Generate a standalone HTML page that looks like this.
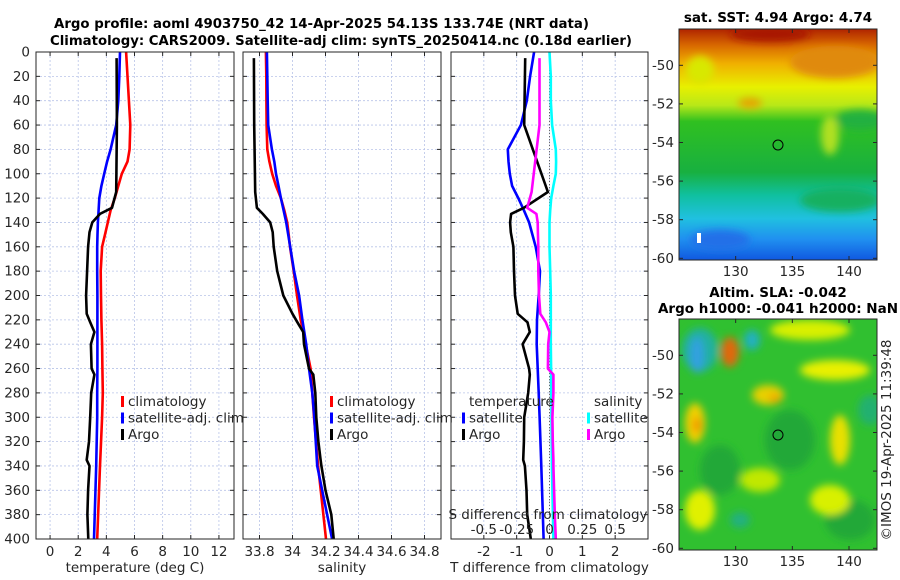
<!DOCTYPE html>
<html><head><meta charset="utf-8"><style>
html,body{margin:0;padding:0;background:#fff;}
svg{display:block;font-family:"DejaVu Sans","Liberation Sans",sans-serif;}
.t{font-size:13.5px;fill:#262626;}
.b{font-size:13.5px;font-weight:bold;fill:#000;}
</style></head><body>
<svg id="fig" width="900" height="580" viewBox="0 0 900 580">
<defs>
<linearGradient id="sstg" x1="0" y1="0" x2="0" y2="1">
<stop offset="0" stop-color="#b02400"/><stop offset="0.07" stop-color="#d86800"/>
<stop offset="0.15" stop-color="#f0b000"/><stop offset="0.25" stop-color="#e8f000"/>
<stop offset="0.33" stop-color="#b8e818"/><stop offset="0.40" stop-color="#30c020"/>
<stop offset="0.62" stop-color="#18b040"/><stop offset="0.72" stop-color="#10c0a0"/>
<stop offset="0.82" stop-color="#20c0e0"/><stop offset="0.91" stop-color="#2090f0"/>
<stop offset="1" stop-color="#1058e0"/></linearGradient>
<filter id="bl" x="-50%" y="-50%" width="200%" height="200%"><feGaussianBlur stdDeviation="4"/></filter>
<clipPath id="c1"><rect x="679" y="29" width="198" height="231"/></clipPath>
<clipPath id="c2"><rect x="679" y="319" width="198" height="231"/></clipPath>
</defs>
<text class="b" x="54" y="28" textLength="535" lengthAdjust="spacingAndGlyphs">Argo profile: aoml 4903750_42 14-Apr-2025 54.13S 133.74E (NRT data)</text>
<text class="b" x="50" y="45" textLength="582" lengthAdjust="spacingAndGlyphs">Climatology: CARS2009. Satellite-adj clim: synTS_20250414.nc (0.18d earlier)</text>
<g id="panels"></g>

<!-- SST map -->
<g>
<g clip-path="url(#c1)">
<rect x="679" y="29" width="198" height="231" fill="url(#sstg)"/>
<g filter="url(#bl)">
<ellipse cx="835" cy="62" rx="45" ry="16" fill="#e08a10"/>
<ellipse cx="770" cy="34" rx="40" ry="8" fill="#a81800"/>
<ellipse cx="700" cy="70" rx="14" ry="14" fill="#d8e800"/>
<ellipse cx="750" cy="103" rx="12" ry="5" fill="#e8a000"/>
<ellipse cx="860" cy="120" rx="25" ry="10" fill="#20b040"/>
<ellipse cx="830" cy="135" rx="9" ry="20" fill="#b0e020"/>
<ellipse cx="840" cy="200" rx="40" ry="12" fill="#18b060"/>
<ellipse cx="720" cy="240" rx="30" ry="10" fill="#2070e8"/>
</g>
<rect x="697" y="233" width="4" height="10" fill="#fff"/>
</g>
<rect x="679" y="29" width="198" height="231" fill="none" stroke="#262626"/>
<circle cx="778" cy="145" r="5" fill="none" stroke="#000"/>
</g>
<text class="b" x="778" y="22" text-anchor="middle">sat. SST: 4.94 Argo: 4.74</text>

<!-- SLA map -->
<g>
<g clip-path="url(#c2)">
<rect x="679" y="319" width="198" height="231" fill="#30c030"/>
<g filter="url(#bl)">
<ellipse cx="790" cy="440" rx="25" ry="30" fill="#20a838"/>
<ellipse cx="720" cy="470" rx="20" ry="25" fill="#20a838"/>
<ellipse cx="850" cy="520" rx="25" ry="20" fill="#20a838"/>
<ellipse cx="870" cy="410" rx="12" ry="15" fill="#20b070"/>
<ellipse cx="700" cy="350" rx="18" ry="22" fill="#20b0a0"/>
<ellipse cx="697" cy="355" rx="7" ry="18" fill="#30a0e0"/>
<ellipse cx="730" cy="352" rx="9" ry="15" fill="#e06810"/>
<ellipse cx="752" cy="340" rx="8" ry="10" fill="#20b0c0"/>
<ellipse cx="768" cy="395" rx="16" ry="10" fill="#e8d000"/>
<ellipse cx="775" cy="398" rx="6" ry="4" fill="#f0a000"/>
<ellipse cx="695" cy="423" rx="10" ry="20" fill="#f0d000"/>
<ellipse cx="697" cy="425" rx="4" ry="8" fill="#f09000"/>
<ellipse cx="840" cy="440" rx="10" ry="25" fill="#e8e000"/>
<ellipse cx="835" cy="370" rx="35" ry="10" fill="#e8f000"/>
<ellipse cx="810" cy="330" rx="40" ry="10" fill="#d8f000"/>
<ellipse cx="700" cy="510" rx="15" ry="20" fill="#e0f000"/>
<ellipse cx="760" cy="480" rx="20" ry="12" fill="#c0e800"/>
<ellipse cx="830" cy="500" rx="20" ry="15" fill="#d8f000"/>
<ellipse cx="740" cy="520" rx="10" ry="8" fill="#20b080"/>
</g>
</g>
<rect x="679" y="319" width="198" height="231" fill="none" stroke="#262626"/>
<circle cx="778" cy="435" r="5" fill="none" stroke="#000"/>
</g>
<text class="b" x="778" y="297" text-anchor="middle">Altim. SLA: -0.042</text>
<text class="b" x="778" y="313" text-anchor="middle">Argo h1000: -0.041 h2000: NaN</text>
<text class="t" transform="translate(891,440) rotate(-90)" text-anchor="middle">©IMOS 19-Apr-2025 11:39:48</text>
<g id="mapaxes"></g>
</svg>
<script>
// depth grid (m)
const depthsTop = [0,20,40,60,80,90,100,110,120,130,140,150,160,180,200,220,240,260,280,300,340,400];
const tempClim = [5.4,5.5,5.6,5.7,5.65,5.5,5.1,4.85,4.6,4.3,4.1,3.9,3.7,3.6,3.62,3.65,3.7,3.72,3.75,3.7,3.55,3.35];
const tempSat  = [4.97,4.92,4.85,4.7,4.3,4.05,3.85,3.65,3.5,3.45,3.4,3.37,3.35,3.35,3.36,3.36,3.36,3.36,3.35,3.35,3.28,3.12];
const argoDepths = [5,60,115,128,133,140,148,160,180,200,215,222,230,240,260,265,280,300,320,335,340,360,380,400];
const tempArgo = [4.73,4.75,4.7,4.4,3.55,3.0,2.8,2.7,2.63,2.56,2.6,2.85,3.15,2.9,2.95,3.15,2.92,2.85,2.77,2.6,2.8,2.7,2.65,2.72];
const salClim = [33.839,33.841,33.842,33.843,33.847,33.86,33.877,33.9,33.93,33.95,33.968,33.977,33.985,34.007,34.027,34.05,34.08,34.11,34.12,34.13,34.155,34.203];
const salSat  = [33.845,33.847,33.85,33.853,33.875,33.89,33.9,33.915,33.93,33.946,33.962,33.974,33.986,34.01,34.04,34.06,34.083,34.1,34.12,34.132,34.15,34.24];
const salArgo = [33.766,33.768,33.774,33.784,33.82,33.865,33.88,33.886,33.907,33.944,34.0,34.03,34.065,34.07,34.1,34.126,34.138,34.144,34.157,34.17,34.175,34.2,34.235,34.25];
const tDiffSat = [-0.47,-0.59,-0.69,-0.87,-1.27,-1.25,-1.21,-1.14,-0.95,-0.78,-0.62,-0.52,-0.42,-0.29,-0.33,-0.38,-0.39,-0.36,-0.33,-0.3,-0.25,-0.18];
const tDiffArgo = [-0.74,-0.77,-0.05,-0.78,-1.17,-1.2,-1.18,-1.1,-1.08,-1.05,-0.97,-0.67,-0.6,-0.82,-0.62,-0.6,-0.65,-0.77,-0.78,-0.8,-0.75,-0.7,-0.68,-0.57];
const sDiffArgo = [-0.076,-0.076,-0.136,-0.17,-0.1,-0.09,-0.088,-0.085,-0.085,-0.08,-0.07,-0.028,0,-0.01,-0.012,0.03,0.03,0.022,0.025,0.03,0.03,0.035,0.04,0.048];
const sDiffSat = [0,0.01,0.01,0.02,0.048,0.05,0.048,0.03,0.013,0.005,0,0,0,0.005,0.01,0.01,0.01,0.012,0.014,0.015,0.018,0.03];
const depthTicks = [0,20,40,60,80,100,120,140,160,180,200,220,240,260,280,300,320,340,360,380,400];
const tempTicks = [0,2,4,6,8,10,12];
const salTicks = [33.8,34,34.2,34.4,34.6,34.8];
const salTickLabels = ["33.8","34","34.2","34.4","34.6","34.8"];
const tdTicks = [-2,-1,0,1,2];
const tdTickLabels = ["-2","-1","0","1","2"];
const sdTicks = [-0.5,-0.25,0,0.25,0.5];
const sdTickLabels = ["-0.5","-0.25","0","0.25","0.5"];
const latTicks = [-50,-52,-54,-56,-58,-60];
const lonTicks = [130,135,140];

const NS = "http://www.w3.org/2000/svg";
const Y0 = 52, Y1 = 539;
const yS = d => Y0 + (d/400)*(Y1-Y0);
function lin(d0,d1,r0,r1){return v => r0 + (v-d0)/(d1-d0)*(r1-r0);}
function mk(tag, attrs, parent){const e=document.createElementNS(NS,tag);for(const k in attrs)e.setAttribute(k,attrs[k]);parent.appendChild(e);return e;}
const root = document.getElementById('panels');

function panel(name, x0, x1, xs, vticks, xlabels, xlabel){
  const g = mk('g',{},root);
  
  
  vticks.forEach(v=>{mk('line',{x1:xs(v),x2:xs(v),y1:Y0,y2:Y1,stroke:'#b8c4e8','stroke-width':0.8,'stroke-dasharray':'2,2'},g);});
  depthTicks.forEach(d=>{
    mk('line',{x1:x0,x2:x1,y1:yS(d),y2:yS(d),stroke:'#b8c4e8','stroke-width':0.8,'stroke-dasharray':'2,2'},g);
    mk('line',{x1:x0,x2:x0+4,y1:yS(d),y2:yS(d),stroke:'#262626'},g);
    mk('line',{x1:x1-4,x2:x1,y1:yS(d),y2:yS(d),stroke:'#262626'},g);
  });
  vticks.forEach((v,i)=>{
    mk('line',{x1:xs(v),x2:xs(v),y1:Y1,y2:Y1-4,stroke:'#262626'},g);
    mk('line',{x1:xs(v),x2:xs(v),y1:Y0,y2:Y0+4,stroke:'#262626'},g);
    const t = mk('text',{x:xs(v),y:556,'text-anchor':'middle',class:'t'},g);
    t.textContent = xlabels[i];
    
    
  });
  const xl = mk('text',{x:(x0+x1)/2,y:572,'text-anchor':'middle',class:'t'},g);
  xl.textContent = xlabel;
  
  
  return g;
}
function line(g, xs, vals, depths, color, name){
  const pts = vals.map((v,i)=>xs(v).toFixed(1)+','+yS(depths[i]).toFixed(1)).join(' ');
  const p = mk('polyline',{points:pts,fill:'none',stroke:color,'stroke-width':2.6,'stroke-linejoin':'round'},g);
  
  
}
function frame(g,x0,x1){mk('rect',{x:x0,y:Y0,width:x1-x0,height:Y1-Y0,fill:'none',stroke:'#262626'},g);}
function legend(g, x, y, items){
  items.forEach((it,i)=>{
    if(it.c) mk('rect',{x:x,y:y+i*16.5-9,width:3,height:11,fill:it.c},g);
    const t = mk('text',{x:x+7,y:y+i*16.5+1,class:'t'},g);
    t.textContent = it.t;
    
    
  });
}

// Panel 1
const xT = lin(-1,13,36,233);
const g1 = panel('temperature-panel',36,234,xT,tempTicks,tempTicks.map(String),'temperature (deg C)');
depthTicks.forEach(d=>{
  const t = mk('text',{x:30,y:yS(d)+4.5,'text-anchor':'end',class:'t'},g1);
  t.textContent = d;
  
  
});
line(g1,xT,tempClim,depthsTop,'#ff0000','temp-climatology-line');
line(g1,xT,tempSat,depthsTop,'#0000ff','temp-satellite-line');
line(g1,xT,tempArgo,argoDepths,'#000000','temp-argo-line');
frame(g1,36,234);
legend(g1,121,405,[{c:'#f00',t:'climatology'},{c:'#00f',t:'satellite-adj. clim'},{c:'#000',t:'Argo'}]);

// Panel 2
const xS = lin(33.7,34.9,243,441);
const g2 = panel('salinity-panel',243,441,xS,salTicks,salTickLabels,'salinity');
line(g2,xS,salClim,depthsTop,'#ff0000','sal-climatology-line');
line(g2,xS,salSat,depthsTop,'#0000ff','sal-satellite-line');
line(g2,xS,salArgo,argoDepths,'#000000','sal-argo-line');
frame(g2,243,441);
legend(g2,330,405,[{c:'#f00',t:'climatology'},{c:'#00f',t:'satellite-adj. clim'},{c:'#000',t:'Argo'}]);

// Panel 3
const xTD = lin(-3,3,451,648);
const xSD = lin(-0.75,0.75,451,648);
const g3 = panel('difference-panel',451,648,xTD,tdTicks,tdTickLabels,'T difference from climatology');
mk('line',{x1:xTD(0),x2:xTD(0),y1:yS(5),y2:Y1,stroke:'#555','stroke-width':1,'stroke-dasharray':'1,2'},g3);
line(g3,xTD,tDiffSat,depthsTop,'#0000ff','tdiff-satellite-line');
line(g3,xTD,tDiffArgo,argoDepths,'#000000','tdiff-argo-line');
line(g3,xSD,sDiffSat,depthsTop,'#00ffff','sdiff-satellite-line');
line(g3,xSD,sDiffArgo,argoDepths,'#ff00ff','sdiff-argo-line');
frame(g3,451,648);
legend(g3,462,405,[{t:'temperature'},{c:'#00f',t:'satellite'},{c:'#000',t:'Argo'}]);
legend(g3,587,405,[{t:'salinity'},{c:'#0ff',t:'satellite'},{c:'#f0f',t:'Argo'}]);
const sl = mk('text',{x:548,y:519,'text-anchor':'middle',class:'t'},g3);
sl.textContent = 'S difference from climatology';


sdTicks.forEach((v,i)=>{
  const t = mk('text',{x:xSD(v),y:534,'text-anchor':'middle',class:'t'},g3);
  t.textContent = sdTickLabels[i];
  
  
});

// map axes
const ma = document.getElementById('mapaxes');
const lonX = lin(125,142.47,679,877);
[[29,65.3],[319,355.3]].forEach(([top,l50],mi)=>{
  const latY = v => l50 + (-50 - v)*19.3;
  latTicks.forEach(v=>{
    const y = latY(v);
    mk('line',{x1:679,x2:683,y1:y,y2:y,stroke:'#262626'},ma);
    mk('line',{x1:873,x2:877,y1:y,y2:y,stroke:'#262626'},ma);
    const t = mk('text',{x:674,y:y+4.5,'text-anchor':'end',class:'t'},ma);
    t.textContent = v;
    
    
  });
  const bot = top+231;
  lonTicks.forEach(v=>{
    const x = lonX(v);
    mk('line',{x1:x,x2:x,y1:bot,y2:bot-4,stroke:'#262626'},ma);
    mk('line',{x1:x,x2:x,y1:top,y2:top+4,stroke:'#262626'},ma);
    const t = mk('text',{x:x,y:bot+16,'text-anchor':'middle',class:'t'},ma);
    t.textContent = v;
    
    
  });
});
</script>
</body></html>
